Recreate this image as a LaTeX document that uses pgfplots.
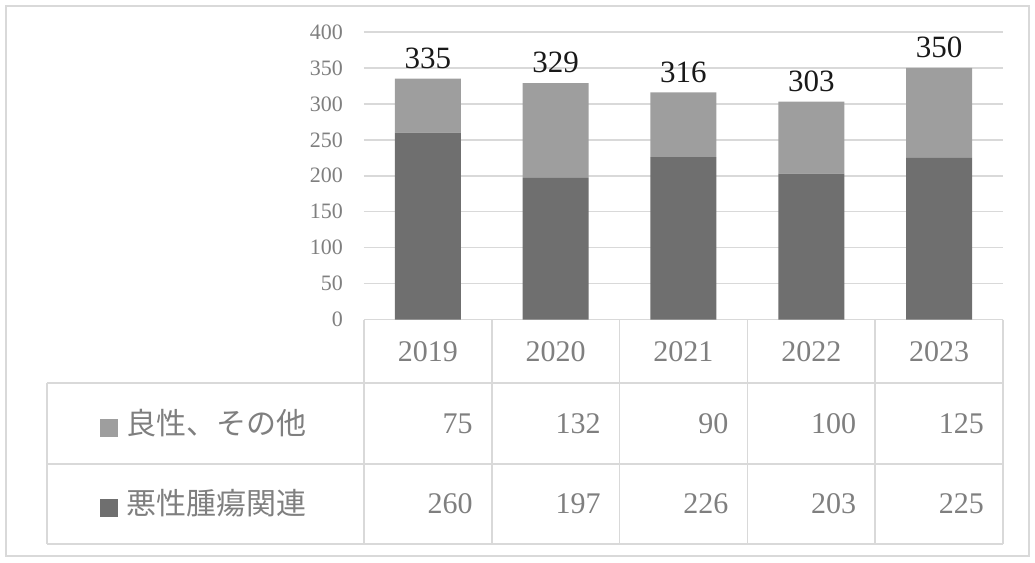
\documentclass[border=0pt]{standalone}
\usepackage{fontspec}
\setmainfont{Liberation Serif}
\newfontfamily\cjk{Noto Sans CJK JP}
\usepackage{pgfplots}
\usepackage{pgfplotstable}
\pgfplotsset{compat=1.18}

\definecolor{benign}{HTML}{9E9E9E}
\definecolor{malig}{HTML}{6F6F6F}
\definecolor{gridc}{HTML}{D9D9D9}
\definecolor{txt}{HTML}{7F7F7F}

% counts per year: malignant-related, benign/other, total
\pgfplotstableread{
x year malignant benign total
0 2019 260 75 335
1 2020 197 132 329
2 2021 226 90 316
3 2022 203 100 303
4 2023 225 125 350
}\counts

\begin{document}
\begin{tikzpicture}
% picture frame in pixel units of the reference
\begin{scope}[x=0.5pt, y=-0.5pt, shift={(-182pt,159.75pt)}]
  \useasboundingbox (0,0) rectangle (1035,563);
  \draw[gridc, line width=0.75pt] (6,6) rectangle (1029,556);
  % data table grid
  \draw[gridc, line width=0.75pt]
    (364,319.5) -- (1003,319.5)
    (47,383) -- (1003,383)
    (47,464) -- (1003,464)
    (47,544) -- (1003,544)
    (47,383) -- (47,544)
    (364,319.5) -- (364,544)
    (491.8,319.5) -- (491.8,544)
    (619.6,319.5) -- (619.6,544)
    (747.4,319.5) -- (747.4,544)
    (875.2,319.5) -- (875.2,544)
    (1003,319.5) -- (1003,544);
  \node[anchor=west, inner sep=0pt, text=txt, font=\fontsize{15}{18}\selectfont] at (100,423.5)
    {\textcolor{benign}{\rule[-1pt]{9pt}{9pt}}\hspace{4pt}{\cjk 良性、その他}};
  \node[anchor=west, inner sep=0pt, text=txt, font=\fontsize{15}{18}\selectfont] at (100,503.5)
    {\textcolor{malig}{\rule[-1pt]{9pt}{9pt}}\hspace{4pt}{\cjk 悪性腫瘍関連}};
\end{scope}

\begin{axis}[
    scale only axis,
    width=319.5pt, height=143.75pt,
    xmin=-0.5, xmax=4.5,
    ymin=0, ymax=400,
    ybar stacked,
    bar width=33pt,
    axis line style={draw=none},
    major tick length=0pt,
    xtick=\empty,
    ytick={0,50,...,400},
    ymajorgrids,
    grid style={gridc, line width=0.75pt},
    /pgf/number format/assume math mode=true,
    yticklabel style={text=txt, font=\fontsize{11}{13}\selectfont, xshift=-7pt},
]
    \addplot[fill=malig, draw=none] table[x=x, y=malignant]{\counts};
    \addplot[fill=benign, draw=none] table[x=x, y=benign]{\counts};
\end{axis}

\begin{axis}[
    scale only axis,
    width=319.5pt, height=143.75pt,
    xmin=-0.5, xmax=4.5,
    ymin=0, ymax=400,
    hide axis, clip=false,
    point meta=explicit symbolic,
]
    % totals above the bars
    \addplot[draw=none, mark=none, nodes near coords,
      every node near coord/.append style={anchor=south, yshift=1.5pt, text=black!90, font=\fontsize{15.5}{18}\selectfont}]
      table[x=x, y=total, meta=total]{\counts};
    % data table: years
    \addplot[draw=none, mark=none, nodes near coords,
      every node near coord/.append style={anchor=center, text=txt, font=\fontsize{15}{18}\selectfont}]
      table[x=x, y expr=-44.5, meta=year]{\counts};
    % data table: benign, other
    \addplot[draw=none, mark=none, nodes near coords,
      every node near coord/.append style={anchor=east, xshift=-6pt, text=txt, font=\fontsize{15}{18}\selectfont}]
      table[x expr=\thisrow{x}+0.5, y expr=-144.7, meta=benign]{\counts};
    % data table: malignant-related
    \addplot[draw=none, mark=none, nodes near coords,
      every node near coord/.append style={anchor=east, xshift=-6pt, text=txt, font=\fontsize{15}{18}\selectfont}]
      table[x expr=\thisrow{x}+0.5, y expr=-256.7, meta=malignant]{\counts};
\end{axis}
\end{tikzpicture}
\end{document}
